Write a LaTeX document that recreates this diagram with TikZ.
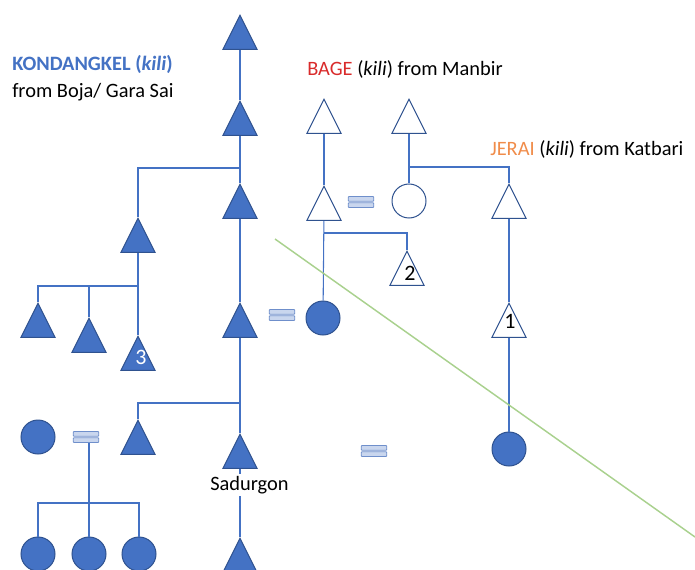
\documentclass[tikz,border=0pt]{standalone}
\usepackage{fontspec}
\setmainfont{Carlito}
\usepackage{tikz}
\usetikzlibrary{shapes.geometric}
\definecolor{kinBlue}{HTML}{4472C4}
\definecolor{kinEdge}{HTML}{2F528F}
\definecolor{eqFill}{HTML}{C9D6EE}
\definecolor{eqEdge}{HTML}{6F8FCB}
\definecolor{bageRed}{HTML}{D92B2B}
\definecolor{jeraiOrange}{HTML}{F08C4A}
\definecolor{kiliGreen}{HTML}{A9D18E}

\begin{document}
\begin{tikzpicture}[x=0.75pt, y=-0.75pt, font=\fontsize{15.3}{18}\selectfont,
  male/.style={isosceles triangle, isosceles triangle stretches, shape border rotate=90,
               minimum width=25.5pt, minimum height=25.5pt, inner sep=0pt,
               draw=kinEdge, line width=0.75pt, fill=kinBlue, anchor=apex},
  maleo/.style={male, fill=white},
  fem/.style={circle, minimum size=25.5pt, inner sep=0pt, draw=kinEdge, line width=0.75pt, fill=kinBlue},
  femo/.style={fem, fill=white},
  wed/.style={minimum width=20pt, minimum height=9pt, inner sep=0pt,
              path picture={
                \draw[eqEdge, fill=eqFill, line width=0.6pt, rounded corners=0.6pt]
                  ([shift={(0.4pt,-0.4pt)}]path picture bounding box.north west) rectangle ([shift={(-0.4pt,0.6pt)}]path picture bounding box.east);
                \draw[eqEdge, fill=eqFill, line width=0.6pt, rounded corners=0.6pt]
                  ([shift={(0.4pt,-0.6pt)}]path picture bounding box.west) rectangle ([shift={(-0.4pt,0.4pt)}]path picture bounding box.south east);
              }},
  tie/.style={draw=kinBlue, line width=0.8pt},
  num/.style={inner sep=0pt, font=\fontsize{16.5}{19}\selectfont},
  clan/.style={anchor=base west, inner sep=0pt},
]
  \useasboundingbox (0,0) rectangle (695,570);

  % Kondangkel line
  \node[male] (k1) at (240,14) {};
  \node[male] (k2) at (240,100) {};
  \node[male] (k3) at (240,183) {};
  \node[male] (k4) at (240,302) {};
  \node[male] (k5) at (240,433) {};
  \node[male] (k6) at (240,537) {};
  \node[male] (l1) at (138,217) {};
  \node[male] (l2) at (38,302) {};
  \node[male] (l3) at (89,317) {};
  \node[male] (l4) at (138,335) {};
  \node[male] (m1) at (138,419) {};
  \node[fem] (c1) at (38,437) {};
  \node[fem] (d1) at (38,554) {};
  \node[fem] (d2) at (89,554) {};
  \node[fem] (d3) at (139,554) {};
  \node[wed] (e1) at (86,437) {};
  \node[wed] (e2) at (282,315) {};
  \node[fem] (w1) at (323,318) {};

  % Bage and Jerai
  \node[maleo] (b1) at (324,98) {};
  \node[maleo] (b2) at (324,185) {};
  \node[maleo] (b3) at (407,250) {};
  \node[maleo] (b4) at (409,98) {};
  \node[femo] (bw) at (409,201) {};
  \node[wed] (e3) at (361,202) {};
  \node[maleo] (r1) at (509,183) {};
  \node[maleo] (r2) at (509,302) {};
  \node[fem] (r3) at (509,449) {};
  \node[wed] (e4) at (374,451) {};

  \node[num, text=white] (n3) at (141,357) {3};
  \node[num] (n2) at (410,273) {2};
  \node[num] (n1) at (510,321) {1};

  \coordinate (j1) at (240,168);
  \coordinate (j2) at (138,286);
  \coordinate (j3) at (240,403);
  \coordinate (j4) at (89,503);
  \coordinate (j5) at (324,233);
  \coordinate (j6) at (409,167);
  \coordinate (g1) at (275,239);
  \coordinate (g2) at (695,537);

  \draw[tie] (k1) -- (k2);
  \draw[tie] (k2) -- (k3);
  \draw[tie] (k3) -- (k4);
  \draw[tie] (k4) -- (k5);
  \draw[tie] (k5) -- (k6);
  \draw[tie] (j1) -| (l1);
  \draw[tie] (l1) -- (l4);
  \draw[tie] (j2) -| (l2);
  \draw[tie] (j2) -| (l3);
  \draw[tie] (j3) -| (m1);
  \draw[tie] (e1.south -| j4) -- (j4);
  \draw[tie] (j4) -| (d1);
  \draw[tie] (j4) -- (d2);
  \draw[tie] (j4) -| (d3);
  \draw[tie] (b1) -- (b2);
  \draw[tie] (b2) -- (w1);
  \draw[tie] (j5) -| (b3);
  \draw[tie] (b4) -- (bw);
  \draw[tie] (j6) -| (r1);
  \draw[tie] (r1) -- (r2);
  \draw[tie] (r2) -- (r3);

  \draw[kiliGreen, line width=1.1pt] (g1) -- (g2);

  \node[clan, text=kinBlue, font=\fontsize{15.3}{18}\selectfont\bfseries] (kond) at (12,71) {KONDANGKEL (\textit{kili})};
  \node[clan] (kondfrom) at (12,98) {from Boja/ Gara Sai};
  \node[clan] (bage) at (307,76) {\textcolor{bageRed}{BAGE} (\textit{kili}) from Manbir};
  \node[clan] (jerai) at (490,156) {\textcolor{jeraiOrange}{JERAI} (\textit{kili}) from Katbari};
  \node[anchor=base west, fill=white, inner xsep=0pt, inner ysep=1.5pt] (sadurgon) at (210,490) {Sadurgon};
\end{tikzpicture}
\end{document}
